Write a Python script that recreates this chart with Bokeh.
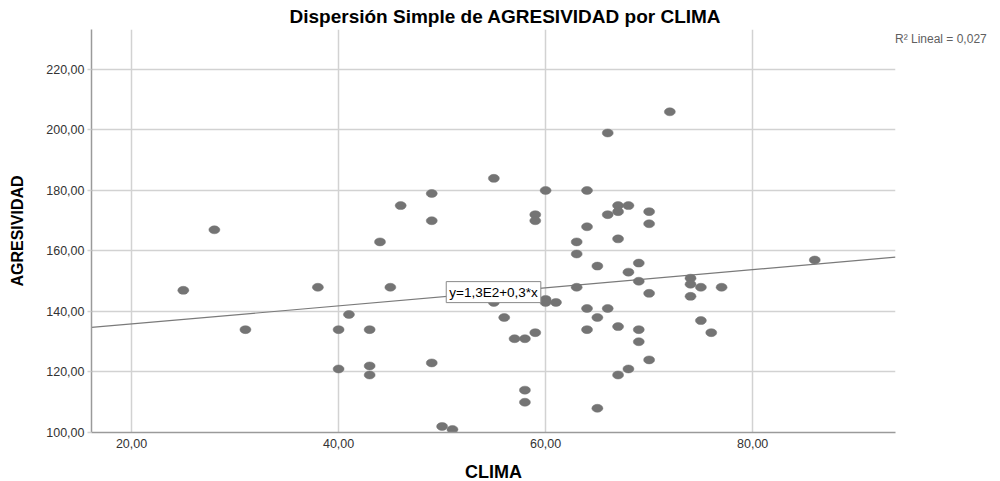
from bokeh.plotting import figure
from bokeh.models import Range1d, Label, FixedTicker, CustomJSTickFormatter, Title, Legend, LegendItem
from bokeh.embed import file_html
from bokeh.resources import INLINE

# ---- data ----
clima = [25, 28, 31, 38, 40, 40, 41, 43, 43, 43, 44, 45, 46, 49, 49, 49, 50, 51,
         55, 55, 56, 57, 58, 58, 58, 59, 59, 59, 60, 60, 60, 61, 63, 63, 63,
         64, 64, 64, 64, 65, 65, 65, 66, 66, 66, 67, 67, 67, 67, 67, 68, 68, 68,
         69, 69, 69, 69, 70, 70, 70, 70, 72, 74, 74, 74, 75, 75, 76, 77, 86]
agresividad = [147, 167, 134, 148, 134, 121, 139, 134, 122, 119, 163, 148, 175, 179, 170, 123, 102, 101,
               184, 143, 138, 131, 131, 114, 110, 172, 170, 133, 180, 144, 143, 143, 163, 159, 148,
               180, 168, 141, 134, 155, 138, 108, 199, 172, 141, 175, 173, 164, 135, 119, 175, 153, 121,
               156, 150, 134, 130, 173, 169, 146, 124, 206, 151, 149, 145, 148, 137, 133, 148, 157]
x_ticks = [20, 40, 60, 80]
y_ticks = [100, 120, 140, 160, 180, 200, 220]
fit_intercept = 129.9
fit_slope = 0.299
fit_label = "y=1,3E2+0,3*x"
r2_label = "R\u00b2 Lineal = 0,027"
title_text = "Dispersión Simple de AGRESIVIDAD por CLIMA"
x_title = "CLIMA"
y_title = "AGRESIVIDAD"

X_MIN, X_MAX = 16.13, 93.8
Y_MIN, Y_MAX = 100.0, 233.2

FONT = "Liberation Sans"
GRID = "#d2d2d2"
AXIS = "#9a9a9a"
POINT = "#747474"

p = figure(frame_width=804, frame_height=403,
           x_range=Range1d(X_MIN, X_MAX), y_range=Range1d(Y_MIN, Y_MAX),
           output_backend="svg", toolbar_location=None, title=None,
           min_border_left=91, min_border_right=100, min_border_top=29, min_border_bottom=41,
           background_fill_color="white", border_fill_color="white")
p.outline_line_color = None

t = Title(text=title_text, align="left", text_font=FONT, text_font_size="19px",
          text_font_style="bold", text_color="#000000", standoff=5, offset=198)
p.add_layout(t, "above")

# grid
p.xgrid.ticker = FixedTicker(ticks=x_ticks)
p.ygrid.ticker = FixedTicker(ticks=y_ticks)
p.grid.grid_line_color = GRID
p.grid.grid_line_width = 1.5

fmt = CustomJSTickFormatter(code="return tick.toFixed(2).replace('.', ',');")

xa = p.xaxis[0]
xa.ticker = FixedTicker(ticks=x_ticks)
xa.formatter = fmt
xa.axis_line_color = AXIS
xa.axis_line_width = 1.5
xa.major_tick_out = 0
xa.major_tick_in = 0
xa.minor_tick_line_color = None
xa.major_label_text_font = FONT
xa.major_label_text_font_size = "12.5px"
xa.major_label_text_color = "#333333"
xa.major_label_standoff = 6
xa.axis_label = x_title
xa.axis_label_text_font = FONT
xa.axis_label_text_font_size = "18px"
xa.axis_label_text_font_style = "bold"
xa.axis_label_text_color = "#000000"
xa.axis_label_standoff = 11

ya = p.yaxis[0]
ya.ticker = FixedTicker(ticks=y_ticks)
ya.formatter = fmt
ya.axis_line_color = AXIS
ya.axis_line_width = 1.5
ya.major_tick_out = 4
ya.major_tick_in = 0
ya.major_tick_line_color = GRID
ya.major_tick_line_width = 1.5
ya.minor_tick_line_color = None
ya.major_label_text_font = FONT
ya.major_label_text_font_size = "12.5px"
ya.major_label_text_color = "#333333"
ya.major_label_standoff = 3
ya.axis_label = y_title
ya.axis_label_text_font = FONT
ya.axis_label_text_font_size = "16px"
ya.axis_label_text_font_style = "bold"
ya.axis_label_text_color = "#000000"
ya.axis_label_standoff = 17

# fit line
fx = [X_MIN, X_MAX]
fy = [fit_intercept + fit_slope * v for v in fx]
fit_r = p.line(fx, fy, line_color="#7a7a7a", line_width=1.2)

# points
p.ellipse(x=clima, y=agresividad, width=11, height=8,
          width_units="screen", height_units="screen",
          fill_color=POINT, line_color=POINT, line_width=0.5)

# fit label box
p.add_layout(Label(x=50.4, y=146.4, text=fit_label, text_font=FONT, text_font_size="13.5px",
                   text_color="#000000", text_align="left", text_baseline="middle",
                   background_fill_color="white", border_line_color="#8a8a8a",
                   border_line_width=1, padding=3))

# R2 note, outside the frame on the right
ghost = p.line([X_MIN, X_MIN], [Y_MIN, Y_MIN], line_alpha=0)
leg = Legend(items=[LegendItem(label=r2_label, renderers=[ghost])],
             location="top_left", orientation="vertical",
             glyph_width=0, glyph_height=20, label_standoff=0, padding=1, margin=0,
             spacing=0, border_line_color=None, background_fill_alpha=0,
             label_text_font=FONT, label_text_font_size="12px", label_text_color="#606060",
             label_height=20, click_policy="none")
p.add_layout(leg, "right")

open("out.html", "w").write(file_html(p, INLINE))
